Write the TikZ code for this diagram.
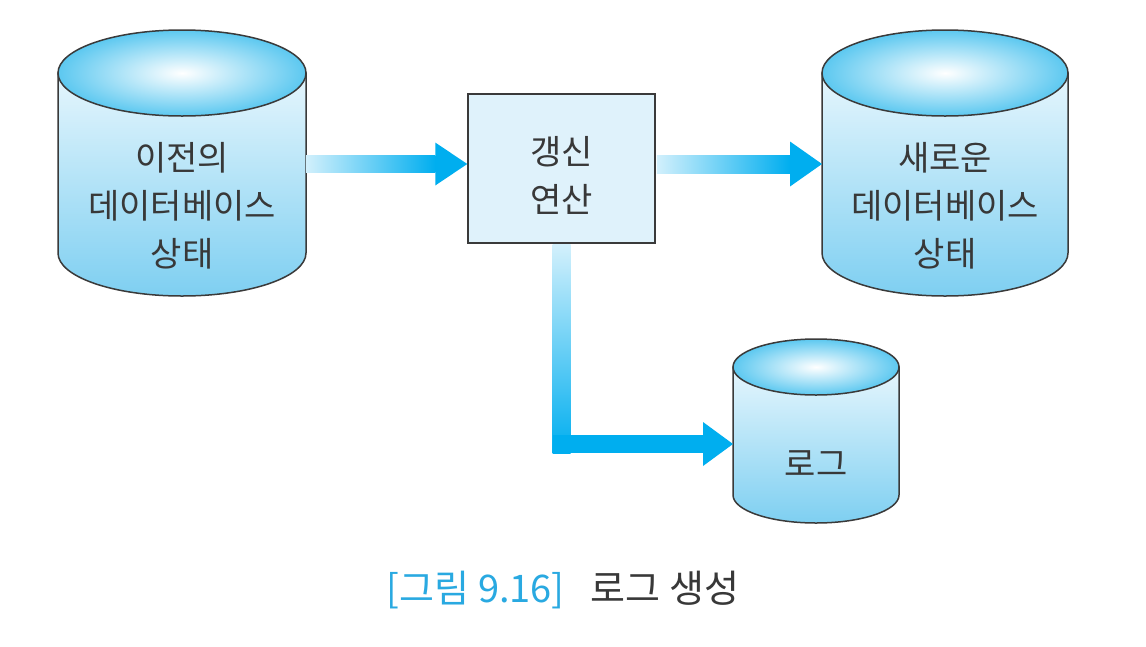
\documentclass[tikz,border=0pt]{standalone}
\usepackage{fontspec}
\setmainfont{Noto Sans CJK KR}
\usepackage{tikz}
\usetikzlibrary{positioning}
\usetikzlibrary{calc}
\usepackage{xcolor}
\definecolor{arrowcyan}{HTML}{00AEEF}
\definecolor{shaftpale}{HTML}{D2F0FC}
\definecolor{bodytop}{HTML}{E6F6FD}
\definecolor{bodybot}{HTML}{7ECFF1}
\definecolor{lidblue}{HTML}{5CC8F0}
\definecolor{boxfill}{HTML}{DFF2FB}
\definecolor{linegray}{HTML}{3A3A3A}
\definecolor{textgray}{HTML}{383838}
\definecolor{capcyan}{HTML}{29A9E1}

\begin{document}
\begin{tikzpicture}[x=1pt,y=-1pt,
        dbtext/.style={align=center, text=textgray, font=\fontsize{34}{48}\selectfont},
        opbox/.style={draw=linegray, line width=1.5pt, fill=boxfill, minimum width=187pt,
            minimum height=149pt}]
        \useasboundingbox (0,0) rectangle (1146,646);
        \fill[white] (0,0) rectangle (1146,646);
        \foreach \cx/\ty/\by/\rx/\ry in {182/73/253/124/43, 945/73/253/123/43, 816/367/495/83/28}
        {
            \shade[top color=bodytop, bottom color=bodybot, draw=linegray, line width=1.5pt]
                (\cx-\rx,\ty) -- (\cx-\rx,\by)
                arc[start angle=180, end angle=360, x radius=\rx pt, y radius=\ry pt]
                -- (\cx+\rx,\ty) -- cycle;
            \shade[inner color=white, outer color=lidblue, draw=linegray, line width=1.5pt]
                (\cx,\ty) ellipse [x radius=\rx pt, y radius=\ry pt];
        }
        \node[dbtext] (old) at (182,206) {이전의\\데이터베이스\\상태};
        \node[dbtext] (new) at (945,206) {새로운\\데이터베이스\\상태};
        \node[dbtext] (log) at (816,464) {로그};
        \node[opbox] (upd) at (561.5,168.5) {};
        \node[dbtext] (updlabel) at ($(upd.center)+(0,7)$) {갱신\\연산};
        \coordinate (oldE) at (306,164);
        \coordinate (newW) at (822,164);
        \coordinate (logW) at (733,444);
        % old -> upd
        \shade[left color=shaftpale, right color=arrowcyan]
            ($(oldE)+(0,-8.5)$) rectangle ($(upd.west |- oldE)+(-32,8.5)$);
        \fill[arrowcyan] ($(upd.west |- oldE)+(-32,-21.5)$) -- (upd.west |- oldE)
            -- ($(upd.west |- oldE)+(-32,21.5)$) -- cycle;
        % upd -> new
        \shade[left color=shaftpale, right color=arrowcyan]
            ($(upd.east |- newW)+(1,-9)$) rectangle ($(newW)+(-32,9)$);
        \fill[arrowcyan] ($(newW)+(-32,-22.5)$) -- (newW) -- ($(newW)+(-32,22.5)$) -- cycle;
        % upd -> log
        \shade[top color=shaftpale, bottom color=arrowcyan]
            ($(upd.south)+(-9,1)$) rectangle ($(upd.south |- logW)+(9,9)$);
        \fill[arrowcyan] ($(upd.south |- logW)+(-9,-9)$) rectangle ($(logW)+(-30,9)$);
        \fill[arrowcyan] ($(logW)+(-30,-22)$) -- (logW) -- ($(logW)+(-30,22)$) -- cycle;
        \node[font=\fontsize{38}{44}\selectfont] (cap) at (563,590)
            {\textcolor{capcyan}{[그림 9.16]}\hspace{26pt}\textcolor{textgray}{로그 생성}};
    \end{tikzpicture}
\end{document}
